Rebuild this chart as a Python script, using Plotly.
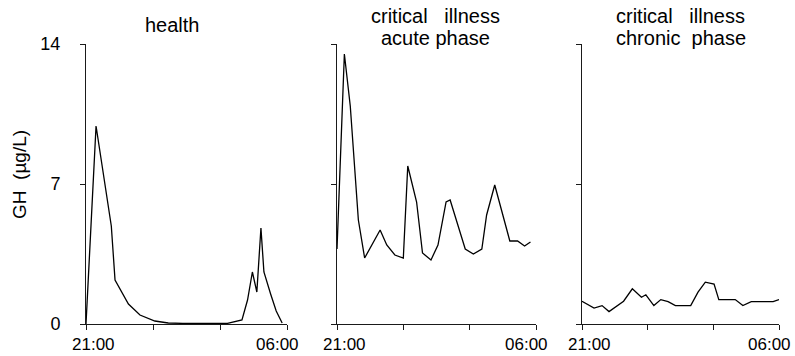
import plotly.graph_objects as go

# ---- data (minutes after 21:00, GH in µg/L) ----
health_min = [0, 27, 68, 78, 114, 145, 185, 221, 260, 320, 380, 419, 434, 447, 459, 470, 478, 496, 511, 527]
health_val = [0, 9.9, 4.9, 2.2, 1.0, 0.45, 0.15, 0.05, 0.03, 0.03, 0.03, 0.2, 1.2, 2.6, 1.6, 4.8, 2.6, 1.5, 0.65, 0.05]

acute_min = [0, 20, 36, 58, 75, 117, 135, 157, 180, 192, 216, 232, 255, 274, 296, 307, 348, 370, 393, 406, 428, 469, 490, 509, 525]
acute_val = [3.75, 13.5, 10.9, 5.2, 3.3, 4.7, 3.95, 3.45, 3.3, 7.9, 6.1, 3.55, 3.2, 3.95, 6.1, 6.2, 3.75, 3.5, 3.75, 5.45, 6.95, 4.15, 4.15, 3.9, 4.1]

chronic_min = [0, 33, 55, 74, 114, 138, 163, 175, 197, 216, 236, 256, 298, 318, 338, 362, 375, 420, 441, 464, 524, 540]
chronic_val = [1.14, 0.8, 0.92, 0.62, 1.14, 1.76, 1.34, 1.46, 0.92, 1.22, 1.12, 0.92, 0.92, 1.59, 2.09, 2.0, 1.22, 1.22, 0.92, 1.12, 1.12, 1.22]

panel_titles = [["health"], ["critical   illness", "acute phase"], ["critical   illness", "chronic  phase"]]
x_tick_vals = [0, 180, 360, 540]
x_label_text = ["21:00", "06:00"]
y_tick_vals = [0, 7, 14]
y_tick_text = ["0", "7", "14"]
y_title = "GH  (µg/L)"

W, H = 795, 356
FONT = "Liberation Sans, Arial, sans-serif"
AX = "#1a1a1a"

def px_x(p):
    return p / W

def px_y(p):
    return 1 - p / H

x_domains = [(86, 287), (337, 536), (582, 779)]
y_dom = [px_y(324), px_y(44)]

fig = go.Figure()
series = [(health_min, health_val), (acute_min, acute_val), (chronic_min, chronic_val)]
for i, (xs, ys) in enumerate(series):
    sfx = "" if i == 0 else str(i + 1)
    fig.add_trace(go.Scatter(x=xs, y=ys, mode="lines",
                             line=dict(color="black", width=1.3),
                             xaxis="x" + sfx, yaxis="y" + sfx,
                             showlegend=False, hoverinfo="skip"))

layout = dict(width=W, height=H, margin=dict(l=0, r=0, t=0, b=0),
              paper_bgcolor="white", plot_bgcolor="white",
              font=dict(family=FONT, color="black", size=17),
              showlegend=False)

for i, (a, b) in enumerate(x_domains):
    sfx = "" if i == 0 else str(i + 1)
    layout["xaxis" + sfx] = dict(domain=[px_x(a), px_x(b)], range=[0, 540],
                                 anchor="y" + sfx, showgrid=False, zeroline=False,
                                 showline=True, linecolor=AX, linewidth=1,
                                 ticks="outside", ticklen=5, tickcolor=AX, tickwidth=1,
                                 tickvals=x_tick_vals, showticklabels=False,
                                 automargin=False)
    layout["yaxis" + sfx] = dict(domain=y_dom, range=[0, 14],
                                 anchor="x" + sfx, showgrid=False, zeroline=False,
                                 showline=True, linecolor=AX, linewidth=1,
                                 ticks="outside", ticklen=5, tickcolor=AX, tickwidth=1,
                                 tickvals=y_tick_vals, ticktext=y_tick_text,
                                 showticklabels=(i == 0), ticklabelstandoff=16,
                                 tickfont=dict(size=18, family=FONT, color="black"),
                                 automargin=False)

fig.update_layout(**layout)

annotations = []
# x tick labels (shifted slightly inward as in the original)
for i in range(3):
    sfx = "" if i == 0 else str(i + 1)
    for val, txt, shift in [(x_tick_vals[0], x_label_text[0], 7), (x_tick_vals[-1], x_label_text[1], -10)]:
        annotations.append(dict(x=val, y=px_y(344.5), xref="x" + sfx, yref="paper",
                                text=txt, showarrow=False, xshift=shift,
                                xanchor="center", yanchor="middle",
                                font=dict(size=17, family=FONT, color="black")))

# panel titles
title_x = [172, 435.5, 680.5]
for i, lines in enumerate(panel_titles):
    if len(lines) == 1:
        ys = [24.8]
    else:
        ys = [16.4, 38.5]
    for line, yy in zip(lines, ys):
        annotations.append(dict(x=px_x(title_x[i]), y=px_y(yy), xref="paper", yref="paper",
                                text=line, showarrow=False, xanchor="center", yanchor="middle",
                                font=dict(size=20, family=FONT, color="black")))

# y-axis title
annotations.append(dict(x=px_x(19), y=px_y(175), xref="paper", yref="paper",
                        text=y_title, showarrow=False, textangle=-90,
                        xanchor="center", yanchor="middle",
                        font=dict(size=19, family=FONT, color="black")))

fig.update_layout(annotations=annotations)
fig.write_html("out.html",
               config={"displayModeBar": False, "staticPlot": True},
               post_script="document.body.style.margin='0';document.body.style.overflow='hidden';")
